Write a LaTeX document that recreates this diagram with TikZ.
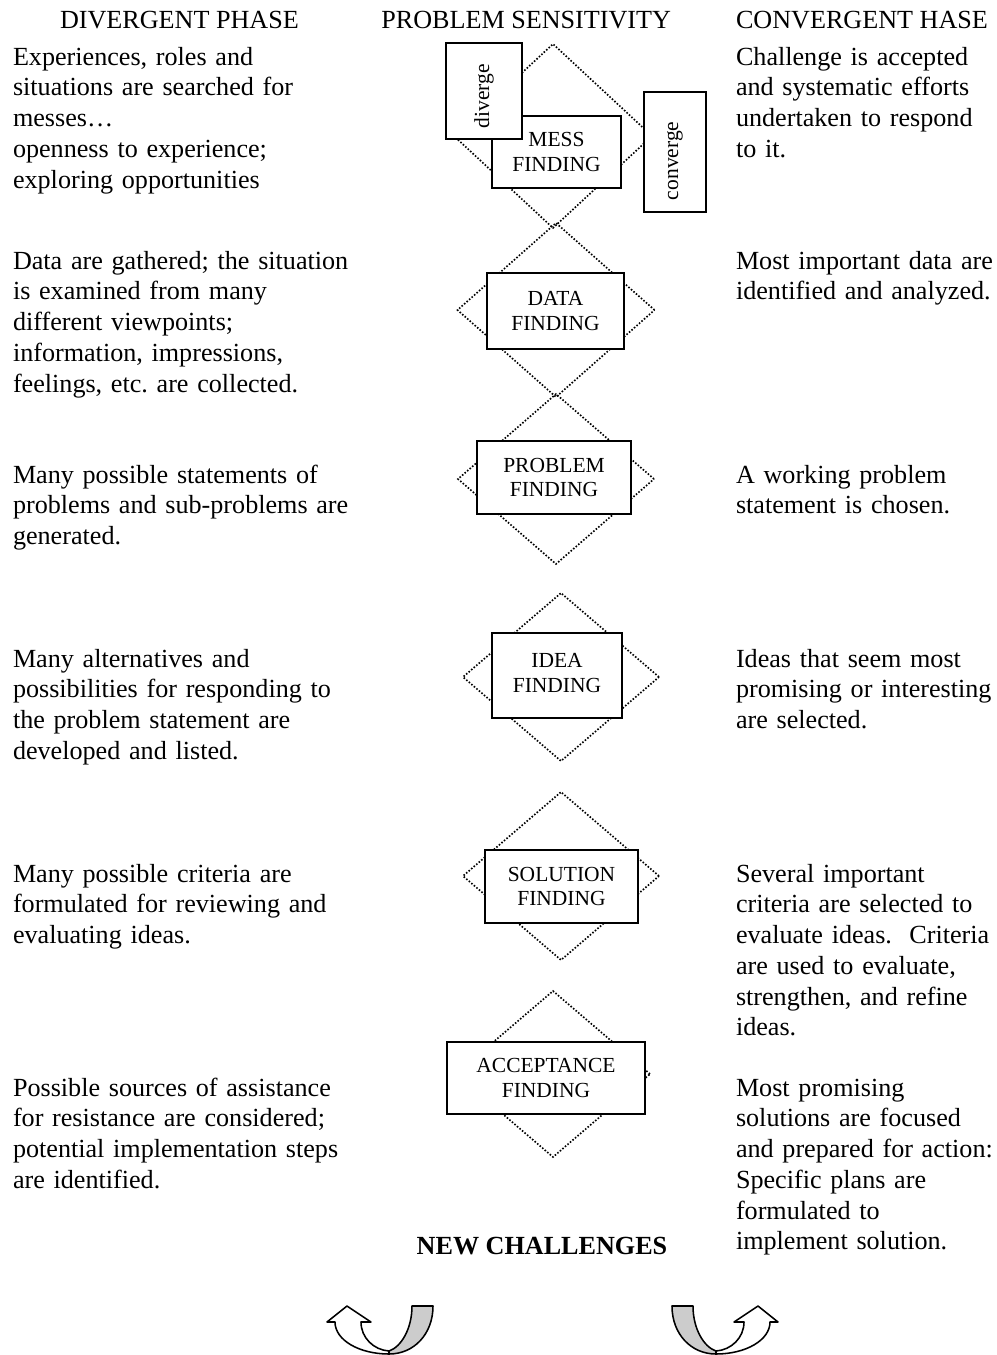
\documentclass[tikz,border=0pt]{standalone}
\usepackage{fontspec}
\setmainfont{Liberation Serif}
\usetikzlibrary{shapes.geometric}
\hyphenpenalty=10000
% one drawing unit = one pixel of a 997 x 1355 sheet
\def\pxl{*0.4515pt}
\tikzset{
  body/.style={anchor=base west, inner sep=0, outer sep=0, align=left,
    text width=440\pxl, font=\fontsize{11.8}{13.9}\selectfont},
  head/.style={inner sep=0, outer sep=0, font=\fontsize{11.8}{13.9}\selectfont},
  stagebox/.style={draw, fill=white, line width=0.7pt, inner sep=0,
    align=center, font=\fontsize{9.7}{11}\selectfont},
  halo/.style={diamond, draw, line width=0.75pt,
    dash pattern=on 0.7pt off 0.8pt, inner sep=0, outer sep=0},
  ribbon/.style={draw, line width=0.7pt, line join=round},
}
\begin{document}
\begin{tikzpicture}[x=0.4515pt, y=-0.4515pt]
\useasboundingbox (0,0) rectangle (997,1355);

% column headings
\node[head, anchor=base west] (hdiv) at (60,28) {DIVERGENT PHASE};
\node[head, anchor=base east] (hsens) at (671,28) {PROBLEM SENSITIVITY};
\node[head, anchor=base west] (hconv) at (736,28) {CONVERGENT HASE};

% dotted diamonds behind the stages
\node[halo, minimum width=198\pxl, minimum height=184\pxl] (dmess) at (553,136) {};
\node[halo, minimum width=197\pxl, minimum height=174\pxl] (ddata) at (556,310) {};
\node[halo, minimum width=196\pxl, minimum height=170\pxl] (dprob) at (556,479) {};
\node[halo, minimum width=196\pxl, minimum height=168\pxl] (didea) at (561,677) {};
\node[halo, minimum width=196\pxl, minimum height=168\pxl] (dsol) at (561,876) {};
\node[halo, minimum width=194\pxl, minimum height=166\pxl] (dacc) at (553,1074) {};

% stage boxes
\node[stagebox, minimum width=129\pxl, minimum height=72\pxl] (mess) at (556.5,152) {MESS\\FINDING};
\node[stagebox, rotate=90, minimum width=96\pxl, minimum height=76\pxl,
      text width=74\pxl, align=left] (diverge) at (484,91) {diverge};
\node[stagebox, rotate=90, minimum width=120\pxl, minimum height=62\pxl,
      text width=96\pxl, align=left] (converge) at (675,152) {converge};
\node[stagebox, minimum width=137\pxl, minimum height=76\pxl] (data) at (555.5,311) {DATA\\FINDING};
\node[stagebox, minimum width=154\pxl, minimum height=73\pxl] (prob) at (554,477.5) {PROBLEM\\FINDING};
\node[stagebox, minimum width=130\pxl, minimum height=85\pxl, text depth=5\pxl] (idea) at (557,675.5) {IDEA\\FINDING};
\node[stagebox, minimum width=153\pxl, minimum height=73\pxl] (sol) at (561.5,886.5) {SOLUTION\\FINDING};
\node[stagebox, minimum width=198\pxl, minimum height=72\pxl] (acc) at (546,1078) {ACCEPTANCE\\FINDING};

% divergent side
\node[body] (l1) at (13,65) {Experiences, roles and\\situations are searched for\\messes…\\openness to experience;\\exploring opportunities};
\node[body] (l2) at (13,269) {Data are gathered; the situation\\is examined from many\\different viewpoints;\\information, impressions,\\feelings, etc.\ are collected.};
\node[body] (l3) at (13,483) {Many possible statements of\\problems and sub-problems are\\generated.};
\node[body] (l4) at (13,667) {Many alternatives and\\possibilities for responding to\\the problem statement are\\developed and listed.};
\node[body] (l5) at (13,882) {Many possible criteria are\\formulated for reviewing and\\evaluating ideas.};
\node[body] (l6) at (13,1096) {Possible sources of assistance\\for resistance are considered;\\potential implementation steps\\are identified.};

% convergent side
\node[body] (r1) at (736,65) {Challenge is accepted\\and systematic efforts\\undertaken to respond\\to it.};
\node[body] (r2) at (736,269) {Most important data are\\identified and analyzed.};
\node[body] (r3) at (736,483) {A working problem\\statement is chosen.};
\node[body] (r4) at (736,667) {Ideas that seem most\\promising or interesting\\are selected.};
\node[body] (r5) at (736,882) {Several important\\criteria are selected to\\evaluate ideas.\ \ Criteria\\are used to evaluate,\\strengthen, and refine\\ideas.};
\node[body] (r6) at (736,1096) {Most promising\\solutions are focused\\and prepared for action:\\Specific plans are\\formulated to\\implement solution.};

% closing heading
\node[head, anchor=base, font=\fontsize{11.8}{13.9}\selectfont\bfseries] (newch) at (542,1254) {NEW CHALLENGES};

% U-turn arrows under the heading
\foreach \bx/\fx/\nm in {389/1/uleft, 716/-1/uright}{
  \begin{scope}[shift={(\bx,1354)}, xscale=\fx]
    \coordinate (\nm) at (0,0);
    \path[ribbon, fill=black!20]
      (0,0) .. controls (25,0) and (44,-20) .. (44,-48)
      -- (23,-48) .. controls (23,-25) and (12,-7) .. (0,-3) -- cycle;
    \path[ribbon, fill=white]
      (0,0) .. controls (-30,0) and (-54,-14) .. (-54,-32)
      -- (-62,-32) -- (-42,-48) -- (-18,-32) -- (-28,-32)
      .. controls (-28,-16) and (-15,-4) .. (0,-3) -- cycle;
  \end{scope}
}
\end{tikzpicture}
\end{document}
